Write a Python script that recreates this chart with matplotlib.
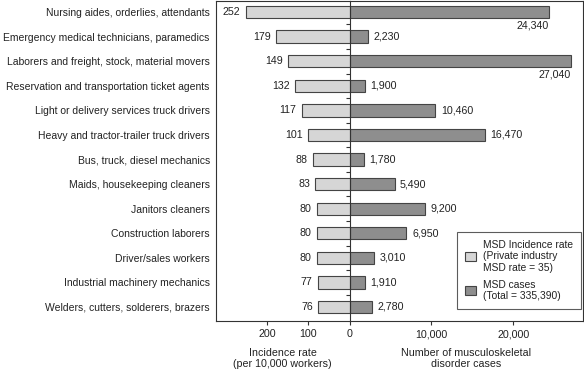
import matplotlib
matplotlib.use("Agg")
import matplotlib.pyplot as plt
from matplotlib.patches import Patch
import numpy as np

plt.rcParams['font.family'] = ['Liberation Sans', 'DejaVu Sans']
plt.rcParams['font.size'] = 7.5

occupations = [
    'Nursing aides, orderlies, attendants',
    'Emergency medical technicians, paramedics',
    'Laborers and freight, stock, material movers',
    'Reservation and transportation ticket agents',
    'Light or delivery services truck drivers',
    'Heavy and tractor-trailer truck drivers',
    'Bus, truck, diesel mechanics',
    'Maids, housekeeping cleaners',
    'Janitors cleaners',
    'Construction laborers',
    'Driver/sales workers',
    'Industrial machinery mechanics',
    'Welders, cutters, solderers, brazers',
]
incidence_rate = [252, 179, 149, 132, 117, 101, 88, 83, 80, 80, 80, 77, 76]
msd_cases = [24340, 2230, 27040, 1900, 10460, 16470, 1780, 5490, 9200, 6950, 3010, 1910, 2780]

light = '#d6d6d6'
dark = '#8e8e8e'
edge = '#444444'
txt = '#222222'
fs = 7.7

W, H = 584, 369
fig = plt.figure(figsize=(W / 100, H / 100), dpi=100)
x0, xc, x1 = 216, 349.5, 583
ytop, ybot = 1, 321
axL = fig.add_axes([x0 / W, (H - ybot) / H, (xc - x0) / W, (ybot - ytop) / H])
axR = fig.add_axes([xc / W, (H - ybot) / H, (x1 - xc) / W, (ybot - ytop) / H])

y = np.arange(len(occupations))
bh = 0.5

axL.barh(y, incidence_rate, height=bh, color=light, edgecolor=edge, linewidth=0.8)
axR.barh(y, msd_cases, height=bh, color=dark, edgecolor=edge, linewidth=0.8)

axL.set_xlim(325.6, 0)
axR.set_xlim(0, 28476)
for ax in (axL, axR):
    ax.set_ylim(12.57, -0.45)

# left value labels
for yi, v in zip(y, incidence_rate):
    axL.annotate(str(v), (v, yi), xytext=(-4, 0), textcoords='offset points',
                 ha='right', va='center', color=txt, fontsize=fs)

# right value labels (the two longest go under the bar)
for yi, v in zip(y, msd_cases):
    s = f'{v:,}'
    if v > 20000:
        axR.annotate(s, (v, yi + bh / 2), xytext=(0, -1.5), textcoords='offset points',
                     ha='right', va='top', color=txt, fontsize=fs)
    else:
        axR.annotate(s, (v, yi), xytext=(4, 0), textcoords='offset points',
                     ha='left', va='center', color=txt, fontsize=fs)

# axes styling
axL.spines['right'].set_visible(False)
for sp in ['left', 'top', 'bottom']:
    axL.spines[sp].set_color('#333333')
    axL.spines[sp].set_linewidth(0.8)
for sp in ['left', 'right', 'top', 'bottom']:
    axR.spines[sp].set_color('#333333')
    axR.spines[sp].set_linewidth(0.8)

axL.set_yticks(y)
axL.set_yticklabels(occupations, color=txt, fontsize=7.5)
axL.tick_params(axis='y', length=0, pad=4.5)

axR.set_yticks(np.arange(0.5, len(occupations) - 1, 1.0))
axR.set_yticklabels([])
axR.tick_params(axis='y', length=3, width=0.8, color='#333333', direction='out')

axL.set_xticks([200, 100])
axL.set_xticklabels(['200', '100'])
axR.set_xticks([0, 10000, 20000])
axR.set_xticklabels(['0', '10,000', '20,000'])
for ax in (axL, axR):
    ax.tick_params(axis='x', length=3, width=0.8, color='#333333', labelsize=fs,
                   labelcolor=txt, pad=3)

axL.set_xlabel('Incidence rate\n(per 10,000 workers)', color=txt, fontsize=fs, labelpad=6)
axR.set_xlabel('Number of musculoskeletal\ndisorder cases', color=txt, fontsize=fs, labelpad=6)

handles = [
    Patch(facecolor=light, edgecolor=edge, linewidth=0.8,
          label='MSD Incidence rate\n(Private industry\nMSD rate = 35)'),
    Patch(facecolor=dark, edgecolor=edge, linewidth=0.8,
          label='MSD cases\n(Total = 335,390)'),
]
leg = axR.legend(handles=handles, loc='lower right', bbox_to_anchor=(0.992, 0.037),
                 borderaxespad=0, fancybox=False, frameon=True, fontsize=7.4,
                 handlelength=1.0, handleheight=1.0, labelspacing=0.7,
                 handletextpad=0.7, borderpad=0.8, labelcolor=txt)
leg.get_frame().set_edgecolor('#333333')
leg.get_frame().set_linewidth(0.8)
for t in leg.get_texts():
    t.set_linespacing(1.15)

fig.savefig('out.png', dpi=100)
